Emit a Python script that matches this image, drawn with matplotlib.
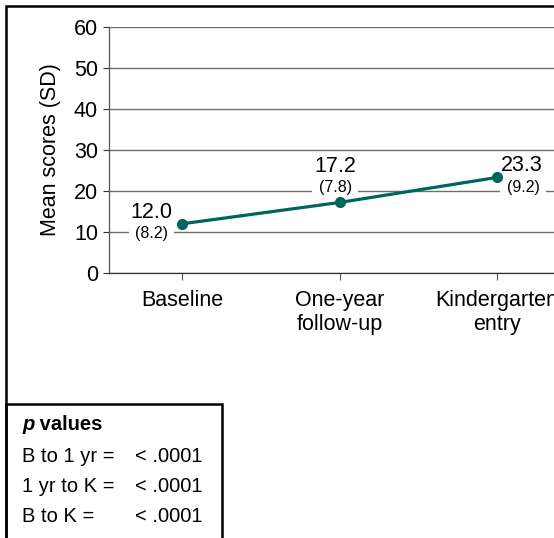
import matplotlib.pyplot as plt
from matplotlib.patches import Rectangle

plt.rcParams['font.family'] = ['Liberation Sans', 'DejaVu Sans']

# data
categories = ['Baseline', 'One-year\nfollow-up', 'Kindergarten\nentry']
means = [12.0, 17.2, 23.3]
sds = [8.2, 7.8, 9.2]
p_labels = ['B to 1 yr =', '1 yr to K =', 'B to K =']
p_values = ['< .0001', '< .0001', '< .0001']

W, H = 554, 538
fig = plt.figure(figsize=(W / 100, H / 100), dpi=100)

def fx(px):
    return px / W

def fy(py):
    return 1 - py / H

# axes in pixel terms: left spine 109, bottom 273, top 27, right past the edge
ax = fig.add_axes([fx(109), fy(273), (570 - 109) / W, (273 - 27) / H])

teal = '#00665c'
x = list(range(len(categories)))
ax.plot(x, means, color=teal, lw=2.3, marker='o', ms=7, zorder=5, clip_on=False)

ax.set_xlim(-0.465, 2.465)
ax.set_ylim(0, 60)
ax.set_yticks(range(0, 61, 10))
ax.set_xticks(x)
ax.set_xticklabels(categories, fontsize=15.5, linespacing=1.18)
ax.tick_params(axis='y', labelsize=15.5, length=4, width=0.8, pad=4, color='#333333')
ax.tick_params(axis='x', length=5, width=0.8, pad=7, color='#555555')
ax.set_ylabel('Mean scores (SD)', fontsize=15.5, labelpad=9)

ax.set_axisbelow(True)
ax.yaxis.grid(True, color='#6e6e6e', lw=1.0)
for s in ['top', 'right']:
    ax.spines[s].set_visible(False)
ax.spines['left'].set_color('#555555')
ax.spines['bottom'].set_color('#333333')
ax.spines['left'].set_linewidth(0.9)
ax.spines['bottom'].set_linewidth(0.9)

# value labels (offsets in points)
mean_off = [(-22, 8), (-3, 26), (18, 8.5)]
sd_off = [(-22, -7), (-3, 10.5), (19, -7)]
for i in range(len(means)):
    ax.annotate('%.1f' % means[i], (x[i], means[i]), xytext=mean_off[i],
                textcoords='offset points', ha='center', va='center', fontsize=15.5, zorder=4)
    ax.annotate('(%.1f)' % sds[i], (x[i], means[i]), xytext=sd_off[i],
                textcoords='offset points', ha='center', va='center', fontsize=11.5, zorder=3,
                bbox=dict(boxstyle='square,pad=0.4', fc='white', ec='none'))

# outer frame and p value box
fig.patches.append(Rectangle((fx(6), fy(560)), fx(600), fy(6) - fy(560),
                             transform=fig.transFigure, fill=False, ec='black', lw=1.8))
fig.patches.append(Rectangle((fx(6), fy(560)), fx(222 - 6), fy(404) - fy(560),
                             transform=fig.transFigure, fill=False, ec='black', lw=1.8))

t = fig.text(fx(22), fy(425), 'p', fontsize=14.5, fontweight='bold', style='italic', va='center')
ax.annotate(' values', xy=(1, 0.5), xycoords=t, va='center', ha='left',
            fontsize=14.5, fontweight='bold', annotation_clip=False)

rows_y = [456, 486, 516]
for lab, pv, yy in zip(p_labels, p_values, rows_y):
    fig.text(fx(22), fy(yy), lab, fontsize=14.5, va='center')
    fig.text(fx(135), fy(yy), pv, fontsize=14.5, va='center')

fig.savefig('out.png', dpi=100)
